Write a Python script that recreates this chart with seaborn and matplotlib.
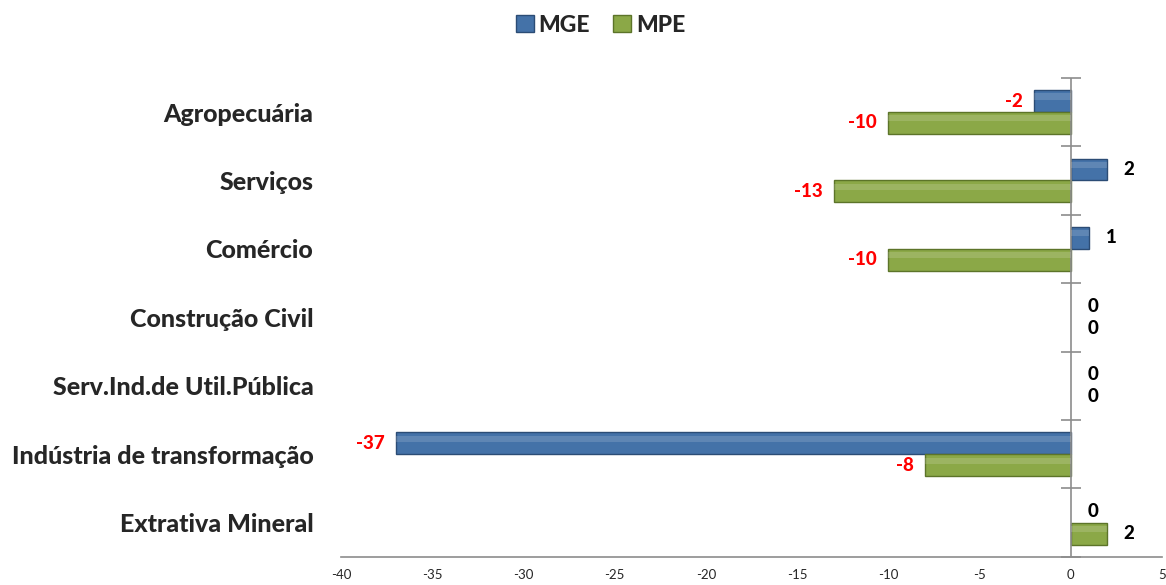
import pandas as pd
import numpy as np
import matplotlib
matplotlib.use("Agg")
import matplotlib.pyplot as plt
import seaborn as sns

# Data
categories = ["Agropecuária", "Serviços", "Comércio", "Construção Civil",
              "Serv.Ind.de Util.Pública", "Indústria de transformação",
              "Extrativa Mineral"]
mge = [-2, 2, 1, 0, 0, -37, 0]
mpe = [-10, -13, -10, 0, 0, -8, 2]
series = ["MGE", "MPE"]
x_ticks = list(range(-40, 6, 5))

df = pd.DataFrame({
    "categoria": categories * 2,
    "valor": mge + mpe,
    "serie": ["MGE"] * len(categories) + ["MPE"] * len(categories),
})

sns.set_style("white")
plt.rcParams["font.family"] = ["Lato", "DejaVu Sans"]

colors = {"MGE": "#4472A8", "MPE": "#8BA847"}
edges = {"MGE": "#2B4C75", "MPE": "#5C7429"}

fig, ax = plt.subplots(figsize=(11.66, 5.85), dpi=100)
fig.subplots_adjust(left=0.2925, right=0.9965, top=0.867, bottom=0.048)

sns.barplot(data=df, y="categoria", x="valor", hue="serie", order=categories,
            hue_order=series, palette=colors, width=0.64, orient="h",
            saturation=1, ax=ax, legend=False)

# bevel-ish look: darker edge + light inner highlight
for cont, s in zip(ax.containers, series):
    for p in cont:
        x0, y0, w, h = p.get_x(), p.get_y(), p.get_width(), p.get_height()
        if w == 0:
            p.set_visible(False)
            continue
        p.set_edgecolor(edges[s])
        p.set_linewidth(1.0)
        ax.add_patch(plt.Rectangle((x0, y0 + h * 0.15), w, h * 0.28,
                                   facecolor="white", alpha=0.15,
                                   linewidth=0, zorder=p.get_zorder() + 0.1))

# value labels
for cont, vals, s in zip(ax.containers, [mge, mpe], series):
    for p, v in zip(cont, vals):
        yc = p.get_y() + p.get_height() / 2
        if v < 0:
            ax.annotate(str(v), (v, yc), xytext=(-8, 0), textcoords="offset points",
                        ha="right", va="center", color="red", fontsize=13.5,
                        fontweight="black")
        else:
            ax.annotate(str(v), (v, yc), xytext=(12, 0), textcoords="offset points",
                        ha="left", va="center", color="black", fontsize=13.5,
                        fontweight="black")

ax.set_xlim(-40, 5)
ax.set_ylim(len(categories) - 0.5, -0.5)
ax.set_xticks(x_ticks)
ax.set_xticklabels([str(t) for t in x_ticks], fontsize=9.5)
ax.tick_params(axis="x", direction="inout", length=6, color="#8c8c8c", pad=6)
ax.tick_params(axis="y", length=0, pad=20)
for lbl in ax.get_yticklabels():
    lbl.set_fontsize(18)
    lbl.set_fontweight("black")
ax.set_xlabel("")
ax.set_ylabel("")
for side in ["top", "right", "left"]:
    ax.spines[side].set_visible(False)
ax.spines["bottom"].set_color("#8c8c8c")
ax.spines["bottom"].set_linewidth(1.2)

# category axis drawn at x = 0
ax.axvline(0, color="#8c8c8c", linewidth=1.2, zorder=1)
zero_pos = (0 - (-40)) / 45
sec = ax.secondary_yaxis(zero_pos)
sec.set_yticks(np.arange(-0.5, len(categories), 1.0))
sec.set_yticklabels([])
sec.tick_params(direction="inout", length=14, color="#8c8c8c", width=1.2)
for side in ["top", "right", "bottom", "left"]:
    sec.spines[side].set_visible(False)

handles = [plt.Rectangle((0, 0), 1, 1, facecolor=colors[s], edgecolor=edges[s])
           for s in series]
fig.legend(handles, series, loc="center", bbox_to_anchor=(0.515, 0.957), ncol=2,
           frameon=False, prop={"weight": "black", "size": 16.5}, handlelength=0.8,
           handleheight=0.8, handletextpad=0.2, columnspacing=1.0)

fig.savefig("out.png", dpi=100)
